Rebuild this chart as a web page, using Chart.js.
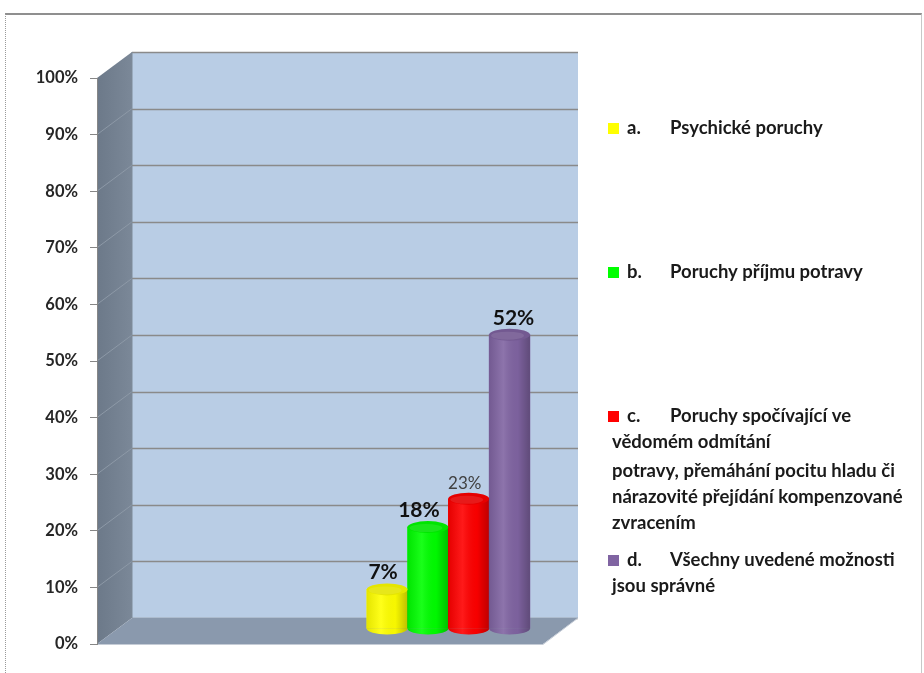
<!DOCTYPE html>
<html>
<head>
<meta charset="utf-8">
<script src="https://cdn.jsdelivr.net/npm/chart.js@4.4.1/dist/chart.umd.min.js"></script>
<style>
  html, body { margin: 0; padding: 0; background: #ffffff; }
  #wrap { position: relative; width: 924px; height: 673px; overflow: hidden; }
  #frame { position: absolute; left: 5px; top: 13px; width: 917px; height: 700px;
           border-top: 2px solid #8f8f8f; border-left: 1px dotted #9a9a9a; border-right: 1px solid #c8c8c8; box-sizing: border-box; }
  canvas { position: absolute; left: 0; top: 0; }
</style>
</head>
<body>
<div id="wrap">
  <div id="frame"></div>
  <canvas id="c" width="924" height="673"></canvas>
</div>
<script>
// ---- data ----
const categories = ['a.', 'b.', 'c.', 'd.'];
const legendTexts = [
  ['Psychické poruchy'],
  ['Poruchy příjmu potravy'],
  ['Poruchy spočívající ve', 'vědomém odmítání', 'potravy, přemáhání pocitu hladu či', 'nárazovité přejídání kompenzované', 'zvracením'],
  ['Všechny uvedené možnosti', 'jsou správné']
];
const values = [7, 18, 23, 52];
const valueLabels = ['7%', '18%', '23%', '52%'];
const tickLabels = ['0%', '10%', '20%', '30%', '40%', '50%', '60%', '70%', '80%', '90%', '100%'];

// ---- styles ----
const barColors = ['#ffff00', '#00ff00', '#ff0000', '#8064a2'];
const labelStyles = [
  { font: 'bold 21px Lato', color: '#111111', dx: -4 },
  { font: 'bold 21px Lato', color: '#111111', dx: -9 },
  { font: '17px Lato', color: '#404040', dx: -4 },
  { font: 'bold 21px Lato', color: '#111111', dx: 4 }
];
const DEPTH = { dx: 35, dy: -26 };      // back wall offset
const BAR_DEPTH = { dx: 20, dy: -15 };  // bars sit in the middle of the floor
const CAP_RY = 6;

const wallsPlugin = {
  id: 'walls',
  beforeDraw(chart) {
    const { ctx, chartArea: a, scales: { y } } = chart;
    const L = a.left, R = a.right, T = y.getPixelForValue(100), B = y.getPixelForValue(0);
    const dx = DEPTH.dx, dy = DEPTH.dy;
    ctx.save();
    ctx.fillStyle = '#b9cde5';
    ctx.fillRect(L + dx, T + dy, R - L, B - T);
    ctx.strokeStyle = '#8a8a8a';
    ctx.lineWidth = 1.5;
    for (let v = 0; v <= 100; v += 10) {
      const py = Math.round(y.getPixelForValue(v) + dy) + 0.5;
      ctx.beginPath(); ctx.moveTo(L + dx, py); ctx.lineTo(R + dx, py); ctx.stroke();
    }
    const g = ctx.createLinearGradient(L, 0, L + dx, 0);
    g.addColorStop(0, '#6c7989');
    g.addColorStop(1, '#7b8898');
    ctx.fillStyle = g;
    ctx.beginPath();
    ctx.moveTo(L, T); ctx.lineTo(L + dx, T + dy); ctx.lineTo(L + dx, B + dy); ctx.lineTo(L, B); ctx.closePath();
    ctx.fill();
    ctx.strokeStyle = '#8d99a7';
    ctx.lineWidth = 1;
    for (let v = 10; v < 100; v += 10) {
      const py = y.getPixelForValue(v);
      ctx.beginPath(); ctx.moveTo(L, py); ctx.lineTo(L + dx, py + dy); ctx.stroke();
    }
    ctx.fillStyle = '#8a99ad';
    ctx.beginPath();
    ctx.moveTo(L, B); ctx.lineTo(R, B); ctx.lineTo(R + dx, B + dy); ctx.lineTo(L + dx, B + dy); ctx.closePath();
    ctx.fill();
    ctx.strokeStyle = '#c5ccd6';
    ctx.lineWidth = 1;
    ctx.beginPath(); ctx.moveTo(L, B + 0.5); ctx.lineTo(R, B + 0.5); ctx.lineTo(R + dx, B + dy); ctx.stroke();
    ctx.strokeStyle = '#7f8b99';
    ctx.beginPath(); ctx.moveTo(L + dx, T + dy); ctx.lineTo(L + dx, B + dy); ctx.stroke();
    ctx.restore();
  },
  beforeDatasetsDraw(chart) {
    chart.ctx.save();
    chart.ctx.translate(BAR_DEPTH.dx, BAR_DEPTH.dy);
  },
  afterDatasetsDraw(chart) {
    const ctx = chart.ctx;
    const meta = chart.getDatasetMeta(0);
    meta.data.forEach((el, i) => {
      const w = el.width, cx = el.x, top = el.y, base = el.base;
      const l = cx - w / 2, r = cx + w / 2;
      ctx.fillStyle = barColors[i];
      ctx.beginPath();
      ctx.ellipse(cx, base, w / 2, CAP_RY, 0, 0, Math.PI);
      ctx.closePath();
      ctx.fill();
      const sh = ctx.createLinearGradient(l, 0, r, 0);
      sh.addColorStop(0, 'rgba(0,0,0,0.10)');
      sh.addColorStop(0.35, 'rgba(255,255,255,0.10)');
      sh.addColorStop(0.7, 'rgba(0,0,0,0.03)');
      sh.addColorStop(1, 'rgba(0,0,0,0.25)');
      ctx.fillStyle = sh;
      ctx.beginPath();
      ctx.moveTo(l, top);
      ctx.lineTo(r, top);
      ctx.lineTo(r, base);
      ctx.ellipse(cx, base, w / 2, CAP_RY, 0, 0, Math.PI);
      ctx.lineTo(l, top);
      ctx.closePath();
      ctx.fill();
      ctx.fillStyle = barColors[i];
      ctx.beginPath(); ctx.ellipse(cx, top, w / 2, CAP_RY, 0, 0, Math.PI * 2); ctx.fill();
      ctx.fillStyle = 'rgba(0,0,0,0.10)';
      ctx.beginPath(); ctx.ellipse(cx, top, w / 2, CAP_RY, 0, 0, Math.PI * 2); ctx.fill();
      ctx.fillStyle = 'rgba(255,255,255,0.10)';
      ctx.beginPath(); ctx.ellipse(cx - 2, top + 1, w / 2 - 4, CAP_RY - 2, 0, 0, Math.PI * 2); ctx.fill();
      ctx.font = labelStyles[i].font;
      ctx.fillStyle = labelStyles[i].color;
      ctx.textAlign = 'center';
      ctx.textBaseline = 'alphabetic';
      ctx.fillText(valueLabels[i], cx + labelStyles[i].dx, top - CAP_RY - 4);
    });
    ctx.restore();
  },
  afterDraw(chart) {
    const ctx = chart.ctx;
    ctx.save();
    ctx.textBaseline = 'middle';
    ctx.textAlign = 'left';
    ctx.font = 'bold 18.5px Lato';
    const x0 = 608, firstY = 128, itemGap = 144, lineH = 26;
    categories.forEach((cat, i) => {
      const yy = firstY + i * itemGap;
      ctx.fillStyle = barColors[i];
      ctx.fillRect(x0, yy - 5, 11, 11);
      ctx.fillStyle = '#1a1a1a';
      ctx.fillText(cat, x0 + 19, yy);
      legendTexts[i].forEach((line, j) => {
        if (j === 0) ctx.fillText(line, x0 + 62, yy);
        else ctx.fillText(line, x0 + 4, yy + j * lineH + (j > 1 ? 3 : 0));
      });
    });
    ctx.restore();
  }
};

new Chart(document.getElementById('c'), {
  type: 'bar',
  data: {
    datasets: [{
      label: 'Odpovědi',
      data: categories.map((c, i) => ({ x: i, y: values[i] })),
      backgroundColor: barColors,
      borderWidth: 0,
      barPercentage: 1,
      categoryPercentage: 1,
      clip: false
    }]
  },
  options: {
    responsive: false,
    animation: false,
    events: [],
    layout: { padding: { top: 78, right: 381, bottom: 29, left: 0 } },
    plugins: { legend: { display: false }, tooltip: { enabled: false } },
    scales: {
      x: { type: 'linear', min: -6.62, max: 4.31, offset: false, display: false, ticks: { stepSize: 100 } },
      y: {
        min: 0, max: 100,
        afterFit(s) { s.width = 97; },
        ticks: {
          stepSize: 10,
          padding: 12,
          color: '#262626',
          font: { family: 'Lato', size: 16.5, weight: 'bold' },
          callback: (v, idx) => tickLabels[idx]
        },
        grid: { drawOnChartArea: false, tickLength: 7, color: '#868686', lineWidth: 1 },
        border: { display: true, color: '#868686', width: 1 }
      }
    }
  },
  plugins: [wallsPlugin]
});
</script>
</body>
</html>
